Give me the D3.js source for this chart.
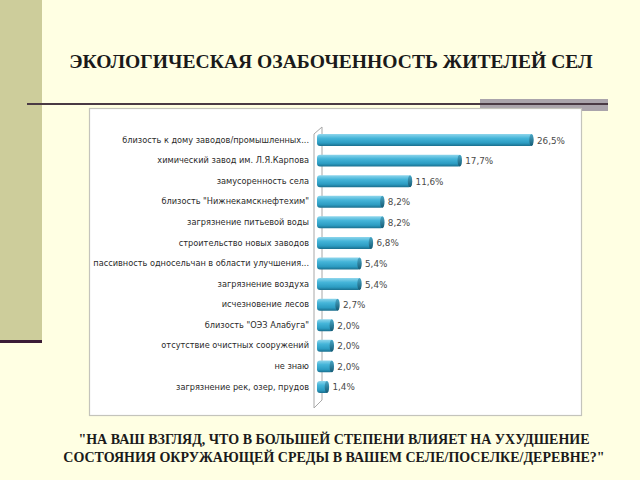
<!DOCTYPE html>
<html><head><meta charset="utf-8">
<script src="https://cdn.jsdelivr.net/npm/d3@7"></script>
<style>html,body{margin:0;padding:0;background:#ffffe3;}svg{display:block;}</style>
</head><body>
<script>
const categories = [
  "близость к дому заводов/промышленных...",
  "химический завод им. Л.Я.Карпова",
  "замусоренность села",
  "близость \"Нижнекамскнефтехим\"",
  "загрязнение питьевой воды",
  "строительство новых заводов",
  "пассивность односельчан в области улучшения...",
  "загрязнение воздуха",
  "исчезновение лесов",
  "близость \"ОЭЗ Алабуга\"",
  "отсутствие очистных сооружений",
  "не знаю",
  "загрязнение рек, озер, прудов"
];
const values = [26.5, 17.7, 11.6, 8.2, 8.2, 6.8, 5.4, 5.4, 2.7, 2.0, 2.0, 2.0, 1.4];
const valueLabels = ["26,5%","17,7%","11,6%","8,2%","8,2%","6,8%","5,4%","5,4%","2,7%","2,0%","2,0%","2,0%","1,4%"];
const title = "ЭКОЛОГИЧЕСКАЯ ОЗАБОЧЕННОСТЬ ЖИТЕЛЕЙ СЕЛ";
const subtitle = ["\"НА ВАШ ВЗГЛЯД, ЧТО В БОЛЬШЕЙ СТЕПЕНИ ВЛИЯЕТ НА УХУДШЕНИЕ",
                  "СОСТОЯНИЯ ОКРУЖАЮЩЕЙ СРЕДЫ В ВАШЕМ СЕЛЕ/ПОСЕЛКЕ/ДЕРЕВНЕ?\""];

const W = 640, H = 480;
const svg = d3.select("body").append("svg").attr("width", W).attr("height", H);
const defs = svg.append("defs");
const g1 = defs.append("linearGradient").attr("id","barGrad").attr("x1",0).attr("y1",0).attr("x2",0).attr("y2",1);
g1.append("stop").attr("offset","0%").attr("stop-color","#8fd6ec");
g1.append("stop").attr("offset","35%").attr("stop-color","#45b5d9");
g1.append("stop").attr("offset","75%").attr("stop-color","#2c9cc2");
g1.append("stop").attr("offset","100%").attr("stop-color","#1a6f8e");
const g2 = defs.append("linearGradient").attr("id","capGrad").attr("x1",0).attr("y1",0).attr("x2",0).attr("y2",1);
g2.append("stop").attr("offset","0%").attr("stop-color","#4aa7c6");
g2.append("stop").attr("offset","100%").attr("stop-color","#145a74");

svg.append("rect").attr("width",W).attr("height",H).attr("fill","#ffffe3");
// left band
svg.append("rect").attr("x",0).attr("y",0).attr("width",42).attr("height",341).attr("fill","#cdcd9b");
svg.append("rect").attr("x",0).attr("y",340).attr("width",42).attr("height",3).attr("fill","#3b1d36");
// top-right gray bar and line
svg.append("rect").attr("x",480).attr("y",99).attr("width",128).attr("height",12).attr("fill","#aaa4ab");
svg.append("rect").attr("x",27).attr("y",103).attr("width",581).attr("height",2).attr("fill","#4a3a44");

// title
svg.append("text").attr("x",331).attr("y",68).attr("text-anchor","middle")
  .attr("font-family","'Liberation Serif','Times New Roman',serif").attr("font-weight","bold")
  .attr("font-size",19.6).attr("fill","#1a1a1a").text(title);

// chart box
svg.append("rect").attr("x",89.5).attr("y",108.5).attr("width",492).attr("height",307)
  .attr("fill","#ffffff").attr("stroke","#c4c4bc").attr("stroke-width",1.2);

const x = d3.scaleLinear().domain([0, 30]).range([317, 561.5]);
const y = d3.scaleBand().domain(categories).range([125.4, 401.6]).paddingInner(0.42).paddingOuter(0.42);

// 3D wall
const wall = svg.append("g").attr("stroke","#a8a8a8").attr("stroke-width",1).attr("fill","none");
wall.append("path").attr("d","M314,134 L322,127 L322,400 M314,134 L314,408 L322,400");

// axis labels
const axis = d3.axisLeft(y).tickSize(0).tickPadding(0);
const ax = svg.append("g").attr("transform","translate(309,0)").call(axis);
ax.select(".domain").remove();
ax.selectAll("text").attr("font-family","'DejaVu Sans',Verdana,sans-serif").attr("font-size",8.2).attr("fill","#2a2a2a");

// bars
const bw = y.bandwidth();
const bars = svg.append("g");
categories.forEach((c,i)=>{
  const y0 = y(c), x0 = x(0), x1 = x(values[i]);
  bars.append("rect").attr("x",x0).attr("y",y0).attr("width",Math.max(0,x1-x0)).attr("height",bw)
    .attr("rx",3).attr("ry",3).attr("fill","url(#barGrad)");
  bars.append("ellipse").attr("cx",x1-1.5).attr("cy",y0+bw/2).attr("rx",2.2).attr("ry",bw/2)
    .attr("fill","url(#capGrad)");
  svg.append("text").attr("x",x1+4).attr("y",y0+bw/2+3.5)
    .attr("font-family","'DejaVu Sans',Verdana,sans-serif").attr("font-size",8.8).attr("fill","#4a4a4a")
    .text(valueLabels[i]);
});

// subtitle
subtitle.forEach((s,i)=>{
  svg.append("text").attr("x",334).attr("y",444+i*18).attr("text-anchor","middle")
    .attr("font-family","'Liberation Serif','Times New Roman',serif").attr("font-weight","bold")
    .attr("font-size",14).attr("fill","#1a1a1a").text(s);
});
</script>
</body></html>
